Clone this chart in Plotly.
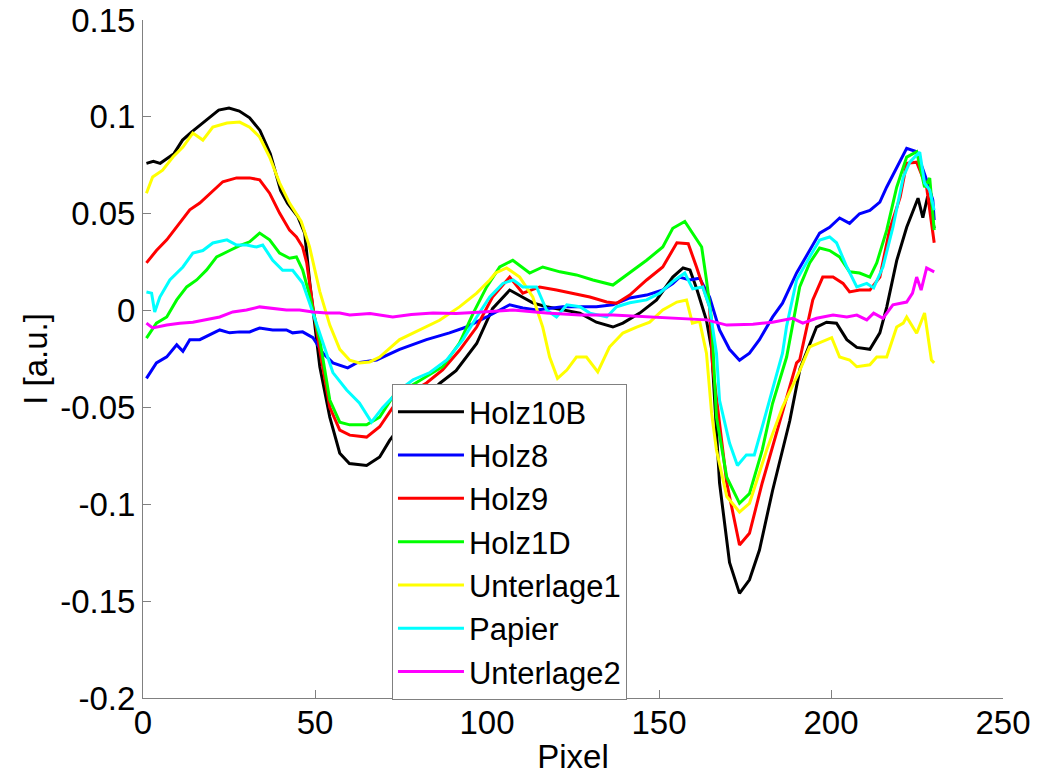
import plotly.graph_objects as go

# ---------------- data ----------------
x_ticks = [0, 50, 100, 150, 200, 250]
x_tick_text = ["0", "50", "100", "150", "200", "250"]
y_ticks = [-0.2, -0.15, -0.1, -0.05, 0, 0.05, 0.1, 0.15]
y_tick_text = ["-0.2", "-0.15", "-0.1", "-0.05", "0", "0.05", "0.1", "0.15"]

holz10b_x = [1, 3, 5, 9, 11.5, 14, 17.5, 22, 25, 28, 31, 34, 37, 40, 42, 45, 47, 48.5, 51.4, 54.3,
             57.2, 60, 65, 68.8, 71.7, 79, 86.3, 91, 97, 101.6, 106.6, 110.4, 113.3, 117.3, 122,
             127, 131.8, 136.6, 139.5, 144.4, 149.3, 154, 157, 159, 161, 163.8, 165.3, 167.6,
             170.5, 173.4, 176.3, 179.2, 183, 188, 191, 192, 195.8, 198.7, 201.6, 204.6, 207.5,
             211.3, 214.2, 216.2, 219.1, 222, 225.3, 226.7, 228.1, 230]
holz10b_y = [0.076, 0.077, 0.076, 0.081, 0.088, 0.092, 0.097, 0.1035, 0.1045, 0.103, 0.0995, 0.093,
             0.081, 0.062, 0.0555, 0.0485, 0.040, 0.014, -0.029, -0.055,
             -0.0736, -0.079, -0.080, -0.0756, -0.067, -0.050, -0.0375, -0.031, -0.017, 0.001,
             0.0106, 0.007, 0.004, 0.002, 0.0003,
             -0.0013, -0.006, -0.0085, -0.0065, -0.0013, 0.0055, 0.0173, 0.022, 0.021, 0.011,
             -0.005, -0.020, -0.089,
             -0.130, -0.146, -0.139, -0.1236, -0.093, -0.057, -0.030, -0.0255, -0.0085, -0.006,
             -0.0065, -0.015, -0.019,
             -0.020, -0.0115, 0.0018, 0.0258, 0.043, 0.058, 0.048, 0.059, 0.0425]

holz8_x = [1, 3.9, 6.9, 9.8, 11.6, 13.6, 16.5, 19.4, 22.3, 25.2, 28.1, 31, 33.9, 37.7, 41.7, 43.5,
           46.4, 49.4, 52.3, 55.2, 59.5, 62.1, 67.9, 74.6, 82.4, 89.1, 94, 99.9, 103.7, 106.6,
           110.4, 114.4, 122, 127, 131.8, 136.6, 141.5, 146.4, 151.1, 154, 156, 158.9, 161.8,
           164.7, 167.6, 170.5, 173.4, 176.3, 179.2, 183, 185.9, 190, 193.8, 196.7, 199.6,
           202.5, 205.4, 208.3, 211.3, 214.2, 216.2, 218, 220.1, 222, 224.9, 227.8, 229.6, 230]
holz8_y = [-0.035, -0.027, -0.0239, -0.0177, -0.021, -0.015, -0.015, -0.0126, -0.010, -0.0115,
           -0.011, -0.011, -0.009, -0.010, -0.010, -0.0115,
           -0.011, -0.014, -0.0219, -0.027, -0.0296, -0.027, -0.0255, -0.020, -0.015, -0.0115,
           -0.0085, -0.0033, 0.0003, 0.003,
           0.0013, 0.0003, 0.002, 0.002, 0.002, 0.003, 0.0065, 0.008, 0.0106, 0.014, 0.0173,
           0.0158, 0.0167,
           0.007, -0.010, -0.020, -0.0256, -0.022, -0.015, -0.0034, 0.0038, 0.0194, 0.031, 0.040,
           0.043,
           0.0478, 0.045, 0.050, 0.0517, 0.056, 0.0638, 0.070, 0.0777, 0.0838, 0.082, 0.0674,
           0.057, 0.0467]

holz9_x = [1, 3.9, 6.9, 9.8, 13.6, 16.5, 20.3, 23.2, 27.2, 31, 33.9, 36.8, 39.7, 42.6, 44.6, 46.4,
           47.6, 49.4, 51.4, 54.3, 57.2, 60.1, 65, 68.8, 72.6, 77.5, 82.4, 87.1, 92, 97, 101.6,
           106.6, 110.4, 115.3, 120.2, 124.9, 129.9, 134.8, 137.7, 141.5, 146.4, 151.1, 155.2,
           158.5, 160.9, 164.7, 165.6, 169.7, 173.4, 176.3, 180, 185, 190, 190.9, 194.7, 197.6,
           200.6, 203.5, 205.4, 208.3, 211.3, 214.2, 217, 220.1, 222, 224.9, 227.8, 230]
holz9_y = [0.0246, 0.031, 0.0365, 0.043, 0.052, 0.0555, 0.062, 0.0665, 0.0685, 0.0685, 0.0675,
           0.0606, 0.0503, 0.0415, 0.038, 0.0328,
           0.0246, 0.0019, -0.0205, -0.050, -0.0617, -0.0643, -0.0653, -0.060, -0.050, -0.0425,
           -0.0374, -0.0307, -0.0205, -0.0085, 0.007,
           0.0173, 0.009, 0.0122, 0.0106, 0.009, 0.007, 0.0044, 0.0038, 0.008, 0.0158, 0.0225,
           0.035,
           0.0345, 0.0225, 0.0019, -0.029, -0.089, -0.121, -0.115, -0.089, -0.058, -0.027,
           -0.0255, 0.0055, 0.0173,
           0.0173, 0.014, 0.0096, 0.0106, 0.0106, 0.0173, 0.0415, 0.0585, 0.076, 0.0766, 0.0637,
           0.035]

holz1d_x = [1, 3.9, 6.9, 9.8, 12.7, 15.6, 18.5, 21.4, 25.2, 28.1, 31, 33.9, 36.8, 39.7, 42.6,
            44.6, 46.4, 48.4, 51.4, 54.3, 57.2, 60.1, 65, 68.8, 72.6, 77.5, 82.4, 87.1, 92, 96,
            99.9, 103.7, 107.5, 112.4, 116.2, 121.2, 126, 130.8, 136.6, 141.5, 146.4, 151.1,
            154, 157.5, 160.9, 162.4, 163.8, 165.3, 166.7, 169.7, 173.4, 176.3, 180, 183, 187.1,
            190.9, 193.8, 196.7, 199.6, 202.5, 205.4, 208.3, 211.3, 213.3, 216.2, 219.1, 222,
            224.9, 227.2, 228.7, 230]
holz1d_y = [-0.0142, -0.0065, -0.0033, 0.0055, 0.0122, 0.0158, 0.021, 0.0277, 0.031, 0.0335,
            0.0355, 0.040, 0.0365, 0.0297, 0.027,
            0.0277, 0.021, 0.008, -0.0152, -0.0462, -0.0576, -0.059, -0.059, -0.055, -0.0446,
            -0.0394, -0.034, -0.029, -0.0168, -0.0013,
            0.0122, 0.0225, 0.026, 0.0194, 0.0225, 0.020, 0.0184, 0.0158, 0.0132, 0.0194, 0.026,
            0.0328,
            0.0425, 0.046, 0.037, 0.0328, 0.0158, -0.005, -0.055, -0.086, -0.0995, -0.0945,
            -0.072, -0.048, -0.024,
            0.0122, 0.0246, 0.0323, 0.031, 0.0277, 0.020, 0.0194, 0.0173, 0.0246, 0.0415, 0.0637,
            0.0792,
            0.082, 0.0637, 0.0684, 0.0415]

unterlage1_x = [1, 2.8, 5.7, 8.7, 11.6, 14.5, 17.4, 20.3, 24.4, 28.1, 31, 33.9, 36.8, 39.7, 42.6,
                46, 48.4, 51.4, 54.3, 57.2, 60.1, 62.9, 65.9, 68.8, 74.6, 80.4, 86.2, 92, 97,
                100.8, 102.5, 105.7, 109.5, 113.3, 116.2, 118.2, 120.5, 123.2, 126, 128.9, 132.2,
                135.6, 139.5, 143.5, 147.3, 151.1, 155.2, 158, 159.7, 161.8, 163.8, 165.3,
                166.7, 169.7, 173.4, 176.3, 181.3, 185.9, 188.5, 190.9, 193.8, 197.6, 200.2,
                202.5, 205.4, 207.5, 211.3, 213.3, 216.2, 219.1, 221, 222, 224.9, 227.2, 229.2,
                230]
unterlage1_y = [0.0606, 0.069, 0.0725, 0.0793, 0.0844, 0.0916, 0.088, 0.0947, 0.0968, 0.0973,
                0.0947, 0.0896, 0.0793, 0.0659, 0.0555,
                0.046, 0.033, 0.0098, -0.0075, -0.020, -0.0256, -0.027, -0.0265, -0.024, -0.015,
                -0.010, -0.005, 0.0019, 0.009,
                0.0158, 0.0194, 0.022, 0.0173, 0.007, -0.0085, -0.024, -0.035, -0.0307, -0.024,
                -0.024, -0.0317,
                -0.0188, -0.0116, -0.0085, -0.006, 0.0003, 0.0044, 0.0055, -0.0065, -0.0055,
                -0.022, -0.053,
                -0.072, -0.096, -0.104, -0.0995, -0.072, -0.0498, -0.040, -0.031, -0.0188, -0.016,
                -0.014,
                -0.024, -0.0255, -0.029, -0.028, -0.024, -0.024, -0.0085, -0.0065, -0.0033,
                -0.0117, -0.0013, -0.0255,
                -0.027]

papier_x = [1, 2.5, 3.4, 4.9, 7.8, 11.6, 14.5, 17.4, 20.3, 24.4, 27.2, 30.1, 33, 34.8, 37.7,
            40.6, 43.5, 46.4, 48.4, 50.4, 51.4, 55.2, 59.2, 62.9, 66.4, 69.7, 74.6, 78.5, 83.4,
            88.3, 93, 97, 100.8, 104.6, 107.6, 110.4, 114.4, 117.3, 120.2, 123.2, 127, 129.9,
            134.8, 137.7, 141.5, 146.4, 150.2, 154, 157.5, 159.8, 162.7, 164.7, 166.7, 167.6,
            170.5, 172.8, 175.4, 177.7, 180, 183, 185.9, 187.1, 190, 193.8, 196.7, 199.6, 201.6,
            204.6, 207.5, 210.4, 212.4, 215.1, 218, 221, 222.9, 224.3, 225.8, 227.2, 228.7, 230]
papier_y = [0.0096, 0.009, -0.0007, 0.007, 0.0158, 0.0225, 0.0297, 0.031, 0.0349, 0.0365, 0.0338,
            0.0338, 0.0328, 0.0338, 0.026,
            0.0208, 0.0208, 0.0142, 0.004, -0.0065, -0.0115, -0.032, -0.041, -0.0477, -0.0576,
            -0.050, -0.041, -0.0357, -0.032,
            -0.0255, -0.015, -0.0033, 0.007, 0.014, 0.0158, 0.0122, 0.0122, 0.0003, -0.0033,
            0.003, 0.002, -0.0013,
            -0.0033, 0.002, 0.004, 0.0055, 0.009, 0.0150, 0.0194, 0.0112, 0.0122, 0.0019, -0.022,
            -0.0463,
            -0.0684, -0.080, -0.0745, -0.0745, -0.060, -0.040, -0.022, -0.008, 0.0158, 0.0277,
            0.0364, 0.038, 0.035,
            0.0225, 0.0122, 0.014, 0.0117, 0.0225, 0.043, 0.0689, 0.0766, 0.0792, 0.0818, 0.0658,
            0.0622, 0.0518]

unterlage2_x = [1, 2.8, 6.9, 10.7, 14.5, 18.5, 22.3, 26.1, 30.1, 33.9, 37.7, 41.7, 45.5, 49.4,
                53.4, 57.2, 60.1, 66, 72.6, 78, 84.3, 91, 98.7, 107.5, 117.3, 127, 136.6, 146.4,
                156, 163.8, 169.7, 177.3, 183, 188.9, 191.8, 195.8, 200.6, 204.6, 207.5, 210.4,
                212.4, 215.1, 218, 222, 223.7, 224.9, 226.2, 227.8, 230]
unterlage2_y = [-0.0065, -0.009, -0.0075, -0.0065, -0.006, -0.0048, -0.0033, -0.0007, 0.0003,
                0.0019, 0.0013, 0.0003, 0.0003, -0.0007,
                -0.0013, -0.0013, -0.0023, -0.0015, -0.0033, -0.002, -0.0013, -0.0015, -0.0007,
                0.0003, -0.0013, -0.0023, -0.0023, -0.0033,
                -0.004, -0.0048, -0.0075, -0.007, -0.006, -0.004, -0.0065, -0.004, -0.0023,
                -0.0033, -0.0023, -0.0048,
                -0.0013, -0.004, 0.003, 0.0044, 0.009, 0.0173, 0.0106, 0.022, 0.020]

series_names = ["Holz10B", "Holz8", "Holz9", "Holz1D", "Unterlage1", "Papier", "Unterlage2"]
series_x = [holz10b_x, holz8_x, holz9_x, holz1d_x, unterlage1_x, papier_x, unterlage2_x]
series_y = [holz10b_y, holz8_y, holz9_y, holz1d_y, unterlage1_y, papier_y, unterlage2_y]
series_colors = ["#000000", "#0000FF", "#FF0000", "#00FF00", "#FFFF00", "#00FFFF", "#FF00FF"]

# ---------------- figure ----------------
FONT = "Liberation Sans, Arial, Helvetica, sans-serif"
fig = go.Figure()
for name, xs, ys, col in zip(series_names, series_x, series_y, series_colors):
    fig.add_trace(go.Scatter(x=xs, y=ys, mode="lines", name=name,
                             line=dict(color=col, width=3)))

axis_common = dict(showgrid=False, zeroline=False, showline=True, linecolor="#808080",
                   linewidth=1, ticks="inside", ticklen=8, tickcolor="#808080", tickwidth=1,
                   mirror=False, automargin=False,
                   tickfont=dict(family=FONT, size=33, color="black"))

fig.update_layout(
    width=1043, height=775,
    margin=dict(l=143, r=40, t=20, b=77, autoexpand=False),
    paper_bgcolor="white", plot_bgcolor="white",
    font=dict(family=FONT, size=33, color="black"),
    xaxis=dict(range=[0, 250], tickvals=x_ticks, ticktext=x_tick_text, ticklabelstandoff=-5,
               title=dict(text="Pixel", font=dict(family=FONT, size=33), standoff=6),
               **axis_common),
    yaxis=dict(range=[-0.2, 0.15], tickvals=y_ticks, ticktext=y_tick_text,
               title=dict(text="I [a.u.]", font=dict(family=FONT, size=33), standoff=2),
               **axis_common),
    legend=dict(x=0.2895, y=0.463, xanchor="left", yanchor="top",
                bgcolor="white", bordercolor="#808080", borderwidth=1,
                font=dict(family=FONT, size=31, color="black"),
                itemwidth=66, tracegroupgap=0),
    showlegend=True,
)

fig.write_html("out.html")
